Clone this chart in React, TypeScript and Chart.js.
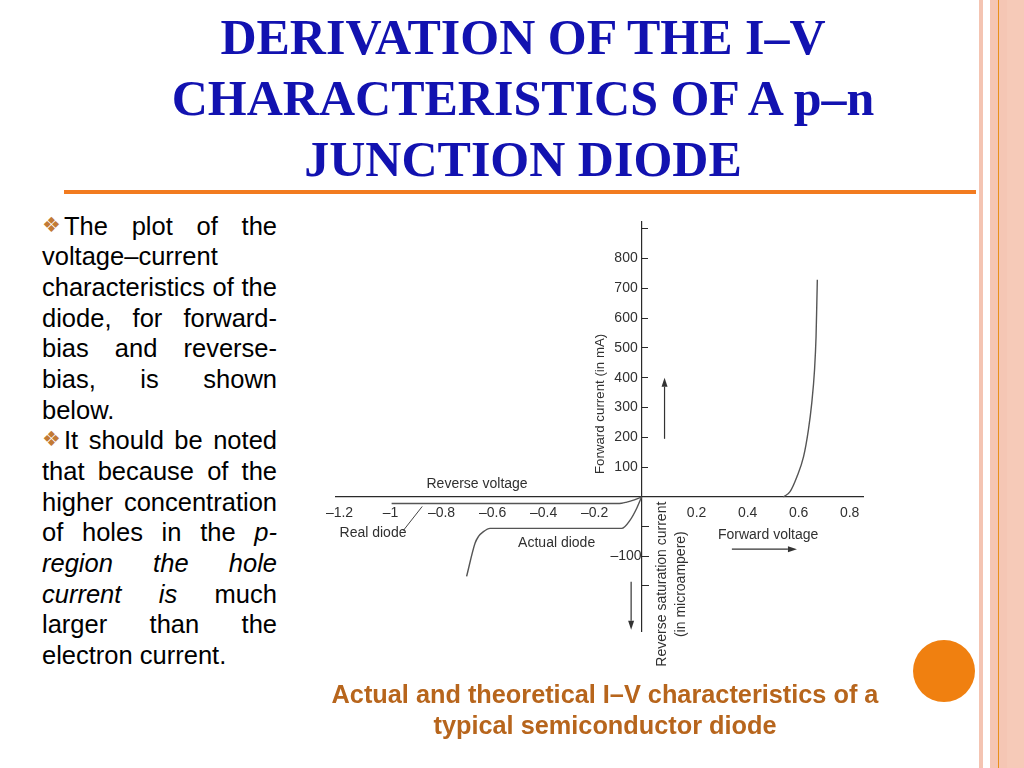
import React, { useEffect, useRef } from 'react';
import { Chart, registerables } from 'chart.js';

Chart.register(...registerables);

// ---------- data (volts / mA / µA) ----------
const X_TICKS = [-1.2, -1, -0.8, -0.6, -0.4, -0.2, 0.2, 0.4, 0.6, 0.8];
const Y_MA_TICKS = [100, 200, 300, 400, 500, 600, 700, 800, 900];
const Y_MA_LABELED = [100, 200, 300, 400, 500, 600, 700, 800];
const Y_UA_TICKS = [-50, -100, -150];
const Y_UA_LABELED = [-100];

const FORWARD_V = [0.556, 0.582, 0.609, 0.635, 0.654, 0.667, 0.678, 0.684, 0.687, 0.689];
const FORWARD_MA = [0, 18, 68, 135, 225, 314, 426, 538, 650, 728];

const REAL_V = [-0.98, -0.1, -0.078, -0.058, -0.038, -0.018, 0];
const REAL_UA = [-11, -11, -10.6, -8.6, -6.2, -3.2, 0];

const ACTUAL_V = [-0.686, -0.653, -0.64, -0.62, -0.594, -0.078, -0.045, -0.019, 0];
const ACTUAL_UA = [-134, -78, -67, -58.5, -53, -53, -39, -19, 0];

const LEADER_V = [-0.935, -0.86];
const LEADER_UA = [-57, -16];

const FIG_TEXTS = [
  { text: 'Reverse voltage', x: -0.645, y: 44, axis: 'y', rot: 0, size: 14 },
  { text: 'Real diode', x: -1.053, y: -61, axis: 'yNeg', rot: 0, size: 14 },
  { text: 'Actual diode', x: -0.333, y: -78, axis: 'yNeg', rot: 0, size: 14 },
  { text: 'Forward voltage', x: 0.496, y: -64, axis: 'yNeg', rot: 0, size: 14 },
  { text: 'Forward current (in mA)', x: -0.163, y: 312, axis: 'y', rot: -90, size: 13.3 },
  { text: 'Reverse saturation current', x: 0.08, y: -147, axis: 'yNeg', rot: -90, size: 14 },
  { text: '(in microampere)', x: 0.155, y: -147, axis: 'yNeg', rot: -90, size: 14 },
];

const FIG_ARROWS = [
  { axis: 'y', x0: 0.09, y0: 195, x1: 0.09, y1: 400 },
  { axis: 'yNeg', x0: -0.041, y0: -143, x1: -0.041, y1: -224 },
  { axis: 'yNeg', x0: 0.354, y0: -88, x1: 0.609, y1: -88 },
];

// ---------- styles ----------
const FIG_FONT = '"Liberation Sans", Arial, sans-serif';
const FIG_TEXT = '#303030';
const AXIS_COLOR = '#2a2a2a';
const CURVE_COLOR = '#555555';

const fmtX = (v: number) => {
  if (Math.abs(v) < 1e-9) return '';
  const a = parseFloat(Math.abs(v).toFixed(1));
  return (v < 0 ? '\u2013' : '') + String(a);
};

const pts = (xs: number[], ys: number[]) => xs.map((x, i) => ({ x, y: ys[i] }));

const annotationPlugin = {
  id: 'figAnnotations',
  afterDatasetsDraw(chart: any) {
    const { ctx, scales } = chart;
    const xs = scales.x;
    ctx.save();
    ctx.fillStyle = FIG_TEXT;
    ctx.textAlign = 'center';
    ctx.textBaseline = 'middle';
    for (const t of FIG_TEXTS) {
      const px = xs.getPixelForValue(t.x);
      const py = scales[t.axis].getPixelForValue(t.y);
      ctx.save();
      ctx.font = `${t.size}px ${FIG_FONT}`;
      ctx.translate(px, py);
      if (t.rot) ctx.rotate((t.rot * Math.PI) / 180);
      ctx.fillText(t.text, 0, 0);
      ctx.restore();
    }
    ctx.strokeStyle = '#333';
    ctx.fillStyle = '#333';
    ctx.lineWidth = 1.2;
    for (const a of FIG_ARROWS) {
      const ys = scales[a.axis];
      const p0x = xs.getPixelForValue(a.x0), p0y = ys.getPixelForValue(a.y0);
      const p1x = xs.getPixelForValue(a.x1), p1y = ys.getPixelForValue(a.y1);
      const ang = Math.atan2(p1y - p0y, p1x - p0x);
      const hl = 9, hw = 3;
      const bx = p1x - hl * Math.cos(ang), by = p1y - hl * Math.sin(ang);
      ctx.beginPath();
      ctx.moveTo(p0x, p0y);
      ctx.lineTo(bx, by);
      ctx.stroke();
      ctx.beginPath();
      ctx.moveTo(p1x, p1y);
      ctx.lineTo(bx + hw * Math.sin(ang), by - hw * Math.cos(ang));
      ctx.lineTo(bx - hw * Math.sin(ang), by + hw * Math.cos(ang));
      ctx.closePath();
      ctx.fill();
    }
    ctx.restore();
  },
};

function DiodeChart() {
  const ref = useRef<HTMLCanvasElement>(null);
  useEffect(() => {
    if (!ref.current) return;
    const tickFont = { family: FIG_FONT, size: 14 };
    const chart = new Chart(ref.current, {
      type: 'scatter',
      data: {
        datasets: [
          {
            label: 'Forward',
            data: pts(FORWARD_V, FORWARD_MA),
            xAxisID: 'x',
            yAxisID: 'y',
            showLine: true,
            borderColor: CURVE_COLOR,
            borderWidth: 1.4,
            pointRadius: 0,
            cubicInterpolationMode: 'monotone',
          },
          {
            label: 'Real diode',
            data: pts(REAL_V, REAL_UA),
            xAxisID: 'x',
            yAxisID: 'yNeg',
            showLine: true,
            borderColor: CURVE_COLOR,
            borderWidth: 1.4,
            pointRadius: 0,
            cubicInterpolationMode: 'monotone',
          },
          {
            label: 'Actual diode',
            data: pts(ACTUAL_V, ACTUAL_UA),
            xAxisID: 'x',
            yAxisID: 'yNeg',
            showLine: true,
            borderColor: CURVE_COLOR,
            borderWidth: 1.4,
            pointRadius: 0,
            cubicInterpolationMode: 'monotone',
          },
          {
            label: 'Leader',
            data: pts(LEADER_V, LEADER_UA),
            xAxisID: 'x',
            yAxisID: 'yNeg',
            showLine: true,
            borderColor: '#444',
            borderWidth: 1,
            pointRadius: 0,
          },
        ],
      },
      options: {
        responsive: false,
        animation: false,
        devicePixelRatio: 1,
        layout: { padding: { left: 35.5, right: 36.5, top: 22, bottom: 49 } },
        plugins: { legend: { display: false }, tooltip: { enabled: false } },
        scales: {
          x: {
            type: 'linear',
            axis: 'x',
            min: -1.2,
            max: 0.87,
            position: { y: 0 },
            grid: { display: false, drawTicks: false },
            border: { display: true, color: AXIS_COLOR, width: 1.2 },
            ticks: {
              padding: 8,
              labelOffset: 4,
              color: FIG_TEXT,
              font: tickFont,
              autoSkip: false,
              maxRotation: 0,
              callback: (v: any) => fmtX(Number(v)),
            },
            afterBuildTicks: (s: any) => {
              s.ticks = X_TICKS.map((v) => ({ value: v }));
            },
            afterFit: (s: any) => {
              s.height = 0;
            },
          },
          y: {
            type: 'linear',
            axis: 'y',
            min: -449.4,
            max: 922,
            position: { x: 0 },
            grid: { display: true, drawOnChartArea: false, drawTicks: true, tickLength: -7, color: AXIS_COLOR, lineWidth: 1 },
            border: { display: true, color: AXIS_COLOR, width: 1.2 },
            ticks: {
              padding: 7,
              color: FIG_TEXT,
              font: tickFont,
              autoSkip: false,
              callback: (v: any) => (Y_MA_LABELED.includes(Number(v)) ? `${v} ` : ''),
            },
            afterBuildTicks: (s: any) => {
              s.ticks = Y_MA_TICKS.map((v) => ({ value: v }));
            },
            afterFit: (s: any) => {
              s.width = 0;
            },
          },
          yNeg: {
            type: 'linear',
            axis: 'y',
            min: -226,
            max: 463.7,
            position: { x: 0 },
            grid: { display: true, drawOnChartArea: false, drawTicks: true, tickLength: -7, color: AXIS_COLOR, lineWidth: 1 },
            border: { display: false },
            ticks: {
              padding: 7,
              color: FIG_TEXT,
              font: tickFont,
              autoSkip: false,
              callback: (v: any) => (Y_UA_LABELED.includes(Number(v)) ? `\u2013${Math.abs(Number(v))}` : ''),
            },
            afterBuildTicks: (s: any) => {
              s.ticks = Y_UA_TICKS.map((v) => ({ value: v }));
            },
            afterFit: (s: any) => {
              s.width = 0;
            },
          },
        },
      } as any,
      plugins: [annotationPlugin],
    });
    return () => chart.destroy();
  }, []);
  return (
    <canvas
      ref={ref}
      width={600}
      height={480}
      style={{ position: 'absolute', left: 300, top: 200, width: 600, height: 480 }}
    />
  );
}

const just: React.CSSProperties = { textAlign: 'justify', textAlignLast: 'justify' as any, height: 30.7, whiteSpace: 'nowrap' };
const left: React.CSSProperties = { textAlign: 'left', height: 30.7, whiteSpace: 'nowrap' };
const bullet: React.CSSProperties = {
  display: 'inline-block',
  width: 22,
  fontFamily: '"DejaVu Sans", sans-serif',
  fontSize: 21,
  lineHeight: '28px',
  color: '#c27a35',
  verticalAlign: 'top',
};

export default function App() {
  return (
    <div
      style={{
        position: 'absolute',
        left: 0,
        top: 0,
        width: 1024,
        height: 768,
        background: '#ffffff',
        overflow: 'hidden',
        fontFamily: '"Liberation Sans", Arial, sans-serif',
      }}
    >
      {/* right decorative stripes */}
      <div style={{ position: 'absolute', left: 979, top: 0, width: 4, height: 768, background: '#f4c4b2' }} />
      <div style={{ position: 'absolute', left: 990, top: 0, width: 34, height: 768, background: '#f5c6b4' }} />
      <div style={{ position: 'absolute', left: 1007, top: 0, width: 17, height: 768, background: '#f6cab8' }} />
      <div style={{ position: 'absolute', left: 998, top: 0, width: 1, height: 768, background: '#e8901c' }} />

      {/* title */}
      <div
        style={{
          position: 'absolute',
          left: 64,
          top: 6.7,
          width: 918,
          textAlign: 'center',
          fontFamily: '"Liberation Serif", "Times New Roman", serif',
          fontWeight: 'bold',
          fontSize: 50,
          lineHeight: '61px',
          color: '#1212b0',
        }}
      >
        <div>DERIVATION OF THE I–V</div>
        <div>CHARACTERISTICS OF A p–n</div>
        <div>JUNCTION DIODE</div>
      </div>
      <div style={{ position: 'absolute', left: 64, top: 190, width: 912, height: 4, background: '#f27b1f' }} />

      {/* body text */}
      <div
        style={{
          position: 'absolute',
          left: 42,
          top: 210.5,
          width: 235,
          fontSize: 25.5,
          lineHeight: '30.7px',
          color: '#000',
        }}
      >
        <div style={just}><span style={bullet}>❖</span>The plot of the</div>
        <div style={left}>voltage–current</div>
        <div style={just}>characteristics of the</div>
        <div style={just}>diode, for forward-</div>
        <div style={just}>bias and reverse-</div>
        <div style={just}>bias, is shown</div>
        <div style={left}>below.</div>
        <div style={just}><span style={bullet}>❖</span>It should be noted</div>
        <div style={just}>that because of the</div>
        <div style={just}>higher concentration</div>
        <div style={just}>of holes in the <i>p-</i></div>
        <div style={just}><i>region the hole</i></div>
        <div style={just}><i>current is</i> much</div>
        <div style={just}>larger than the</div>
        <div style={left}>electron current.</div>
      </div>

      <DiodeChart />

      {/* caption */}
      <div
        style={{
          position: 'absolute',
          left: 305,
          top: 678.8,
          width: 600,
          textAlign: 'center',
          fontWeight: 'bold',
          fontSize: 25.3,
          lineHeight: '31px',
          color: '#b7651c',
        }}
      >
        <div>Actual and theoretical I–V characteristics of a</div>
        <div>typical semiconductor diode</div>
      </div>

      {/* orange circle */}
      <div
        style={{
          position: 'absolute',
          left: 913,
          top: 640,
          width: 62,
          height: 62,
          borderRadius: '50%',
          background: '#f08010',
        }}
      />
    </div>
  );
}
